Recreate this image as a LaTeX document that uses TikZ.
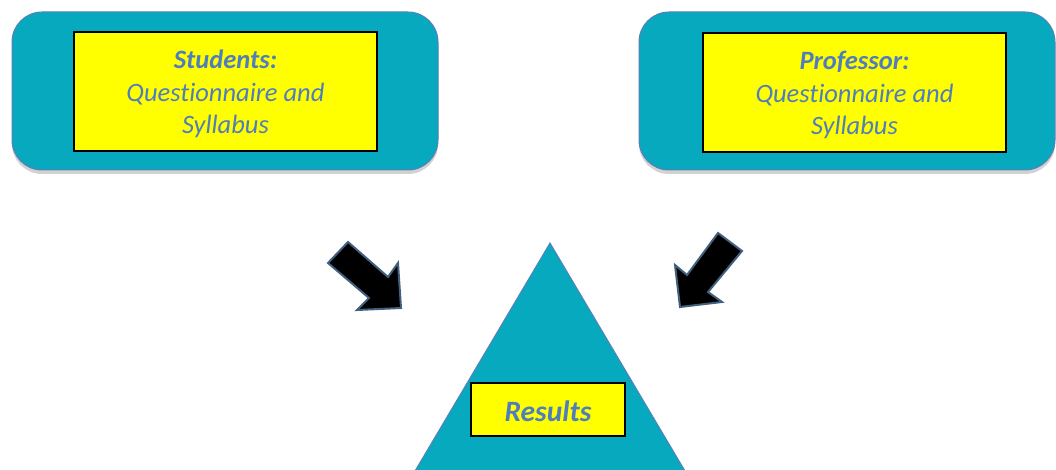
\documentclass[tikz,border=0pt]{standalone}
\usepackage{fontspec}
\setmainfont[Ligatures=NoCommon]{Carlito}
\usetikzlibrary{shadows,fadings}
\definecolor{teal1}{HTML}{07A9BF}
\definecolor{edgeblue}{HTML}{5B7FB8}
\definecolor{txtblue}{HTML}{4F7DBD}
\definecolor{arrowedge}{HTML}{41607F}
\definecolor{yel}{HTML}{FFFF00}
\tikzset{
  outerbox/.style={draw=edgeblue, line width=1pt, fill=teal1, rounded corners=30pt,
    minimum height=158pt,
    drop shadow={shadow xshift=0pt, shadow yshift=-4pt, opacity=0.25, fill=black!70}},
  yellowbox/.style={draw=black, line width=1.2pt, fill=yel, inner sep=0pt},
  lbl/.style={text=txtblue, font=\fontsize{26.5}{32.5}\selectfont\itshape, align=center},
  blockarrow/.style={draw=arrowedge, line width=2pt, fill=black, line join=miter},
}
\begin{document}
\begin{tikzpicture}[x=1pt,y=-1pt]
\useasboundingbox (0,0) rectangle (1056,470);
\node[outerbox, minimum width=426pt] (lbox) at (225,91) {};
\node[outerbox, minimum width=416pt] (rbox) at (847,91) {};
\node[yellowbox, minimum width=303pt, minimum height=119pt] (ly) at (225.5,91.5) {};
\node[yellowbox, minimum width=303pt, minimum height=119pt] (ry) at (854.5,92.5) {};
\node[lbl] (lt) at (225.5,94) {\textbf{Students:}\\Questionnaire and\\Syllabus};
\node[lbl] (rt) at (854.5,95) {\textbf{Professor:}\\Questionnaire and\\Syllabus};
% triangle
\coordinate (apex) at (550,243);
\coordinate (bl) at (415,471);
\coordinate (br) at (685,471);
\begin{scope}
\clip (0,0) rectangle (1056,470);
\draw[draw=edgeblue, line width=1pt, fill=teal1] (apex) -- (br) -- (bl) -- cycle;
\end{scope}
\node[yellowbox, minimum width=154pt, minimum height=53pt] (ry2) at (548,409.5) {};
\node[text=txtblue, font=\fontsize{29.5}{32}\selectfont\bfseries\itshape] (res) at (548,411) {Results};
% block arrows
\draw[blockarrow] (328,263) -- (348,242) -- (388,277) -- (398,263) -- (401,308) -- (357,310) -- (369,298) -- cycle;
\draw[blockarrow] (718,233) -- (687,275) -- (675,265) -- (680,307) -- (722,302) -- (708,292) -- (742,251) -- cycle;
\end{tikzpicture}
\end{document}
